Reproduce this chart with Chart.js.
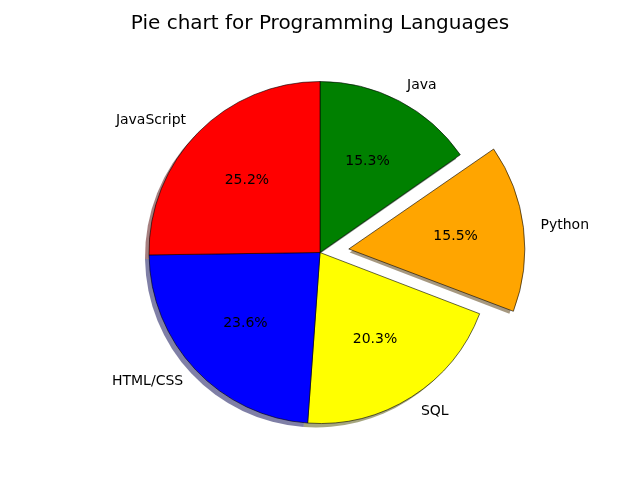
<!DOCTYPE html>
<html>
<head>
<meta charset="utf-8">
<script src="https://cdn.jsdelivr.net/npm/chart.js@4"></script>
<style>
  html, body { margin: 0; padding: 0; background: #fff; }
</style>
</head>
<body>
<canvas id="pie-chart" width="640" height="480"></canvas>
<script>
// clockwise from the top, as chart.js draws them
var languages = ["Java", "Python", "SQL", "HTML/CSS", "JavaScript"];
var shares = [15.3, 15.5, 20.3, 23.6, 25.2];
var sliceColors = ["green", "orange", "yellow", "blue", "red"];

var FONT = "'DejaVu Sans', sans-serif";

function shadeOf(c) {
    // matplotlib shadow: 0.3 * facecolor, alpha 0.5
    var rgb = {
        green: [0, 128, 0],
        orange: [255, 165, 0],
        yellow: [255, 255, 0],
        blue: [0, 0, 255],
        red: [255, 0, 0],
    }[c];
    return "rgba(" + rgb.map(function (v) { return Math.round(v * 0.3); }).join(",") + ",0.5)";
}

// same translation chart.js applies to an arc with an offset
function arcShift(arc) {
    var o = (arc.options.offset || 0) / 4;
    var fix = 1 - Math.sin(Math.min(Math.PI, arc.circumference || 0));
    var d = o * (1 + fix);
    var h = (arc.startAngle + arc.endAngle) / 2;
    return [Math.cos(h) * d, Math.sin(h) * d];
}

var shadowPlugin = {
    id: "pieShadow",
    beforeDatasetsDraw: function (chart) {
        var ctx = chart.ctx;
        var arcs = chart.getDatasetMeta(0).data;
        ctx.save();
        arcs.forEach(function (arc, i) {
            var s = arcShift(arc);
            var x = arc.x + s[0] - 4;
            var y = arc.y + s[1] + 4;
            ctx.beginPath();
            ctx.moveTo(x, y);
            ctx.arc(x, y, arc.outerRadius, arc.startAngle, arc.endAngle);
            ctx.closePath();
            ctx.fillStyle = shadeOf(sliceColors[i]);
            ctx.fill();
        });
        ctx.restore();
    },
};

var labelPlugin = {
    id: "pieLabels",
    afterDatasetsDraw: function (chart) {
        var ctx = chart.ctx;
        var arcs = chart.getDatasetMeta(0).data;
        var total = shares.reduce(function (a, b) { return a + b; }, 0);
        ctx.save();
        ctx.font = "14px " + FONT;
        ctx.fillStyle = "#000";
        ctx.textBaseline = "middle";
        arcs.forEach(function (arc, i) {
            var s = arcShift(arc);
            var h = (arc.startAngle + arc.endAngle) / 2;
            var r = arc.outerRadius;
            var cx = arc.x + s[0];
            var cy = arc.y + s[1];
            var lx = cx + Math.cos(h) * r * 1.1;
            var ly = cy + Math.sin(h) * r * 1.1;
            ctx.textAlign = Math.cos(h) > 0 ? "left" : "right";
            ctx.fillText(languages[i], lx, ly);
            ctx.textAlign = "center";
            var pct = (shares[i] / total * 100).toFixed(1) + "%";
            ctx.fillText(pct, cx + Math.cos(h) * r * 0.6, cy + Math.sin(h) * r * 0.6);
        });
        ctx.restore();
    },
};

var config = {
    type: "pie",
    data: {
        labels: languages,
        datasets: [
            {
                data: shares,
                backgroundColor: sliceColors,
                borderColor: "#000",
                borderWidth: 0.6,
                offset: [0, 116, 0, 0, 0],
            },
        ],
    },
    options: {
        responsive: false,
        animation: false,
        radius: 171,
        layout: {
            padding: { top: 0, bottom: 21, left: 0, right: 0 },
        },
        plugins: {
            legend: { display: false },
            tooltip: { enabled: false },
            title: {
                display: true,
                text: "Pie chart for Programming Languages",
                color: "#000",
                font: { family: FONT, size: 20, weight: "normal" },
                padding: { top: 12, bottom: 10 },
            },
        },
    },
    plugins: [shadowPlugin, labelPlugin],
};

var pieChart = new Chart(document.getElementById("pie-chart").getContext("2d"), config);
</script>
</body>
</html>
